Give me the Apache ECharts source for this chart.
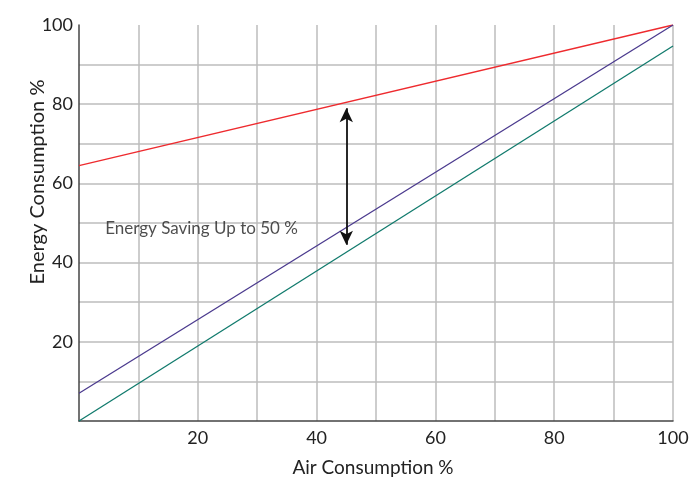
<!DOCTYPE html>
<html><head><meta charset="utf-8">
<script src="https://cdn.jsdelivr.net/npm/echarts@6/dist/echarts.min.js"></script>
<style>html,body{margin:0;padding:0;background:#fff;overflow:hidden}#c{width:693px;height:478px}</style>
</head><body><div id="c"></div>
<script>
const xTicks = [0, 20, 40, 60, 80, 100];
const yTicks = [0, 20, 40, 60, 80, 100];
const redLine = [[0, 64.5], [100, 100]];
const purpleLine = [[0, 7], [100, 100]];
const tealLine = [[0, 0], [100, 94.7]];
const arrowPts = [[45, 79], [45, 44.5]];
const noteText = 'Energy Saving Up to 50 %';
const notePos = [4.4, 48.5];

const chart = echarts.init(document.getElementById('c'));
const font = 'Lato, "Open Sans", sans-serif';
chart.setOption({
  animation: false,
  grid: {left: 79, right: 20, top: 25, bottom: 57, containLabel: false, outerBoundsMode: 'none'},
  xAxis: {
    type: 'value', min: 0, max: 100, interval: 10,
    name: 'Air Consumption %', nameLocation: 'middle', nameGap: 37, nameMoveOverlap: false,
    nameTextStyle: {fontFamily: font, fontSize: 19, color: '#222', padding: [0, 6, 0, 0]},
    axisLine: {show: true, lineStyle: {color: '#444', width: 1.5}},
    axisTick: {show: false},
    axisLabel: {fontFamily: font, fontSize: 18, color: '#222', margin: 8,
      formatter: v => (xTicks.includes(v) && v !== 0) ? String(v) : ''},
    splitLine: {show: true, showMinLine: false, lineStyle: {color: '#bdbdbd', width: 1.5}}
  },
  yAxis: {
    type: 'value', min: 0, max: 100, interval: 10,
    name: 'Energy Consumption %', nameLocation: 'middle', nameGap: 31, nameMoveOverlap: false,
    nameTextStyle: {fontFamily: font, fontSize: 20, color: '#222', padding: [0, 0, 0, 82]},
    axisLine: {show: true, lineStyle: {color: '#444', width: 1.5}},
    axisTick: {show: false},
    axisLabel: {fontFamily: font, fontSize: 18, color: '#222', margin: 6,
      formatter: v => (yTicks.includes(v) && v !== 0) ? String(v) : ''},
    splitLine: {show: true, showMinLine: false, showMaxLine: false, lineStyle: {color: '#bdbdbd', width: 1.5}}
  },
  series: [
    {type: 'line', data: redLine, symbol: 'none', lineStyle: {color: '#ee2a2e', width: 1.3}, z: 3},
    {type: 'line', data: purpleLine, symbol: 'none', lineStyle: {color: '#4b3a8e', width: 1.3}, z: 3},
    {type: 'line', data: tealLine, symbol: 'none', lineStyle: {color: '#107a6c', width: 1.3}, z: 3,
      markLine: {
        silent: true, symbol: ['arrow', 'arrow'], symbolSize: [10, 14],
        lineStyle: {color: '#111', width: 1.8, type: 'solid'},
        label: {show: false},
        data: [[{coord: arrowPts[0]}, {coord: arrowPts[1]}]]
      }
    },
    {type: 'scatter', data: [notePos], symbolSize: 0, silent: true,
      label: {show: true, position: 'right', distance: 0, formatter: noteText,
        fontFamily: font, fontSize: 17, color: '#222'}}
  ]
});
</script></body></html>
